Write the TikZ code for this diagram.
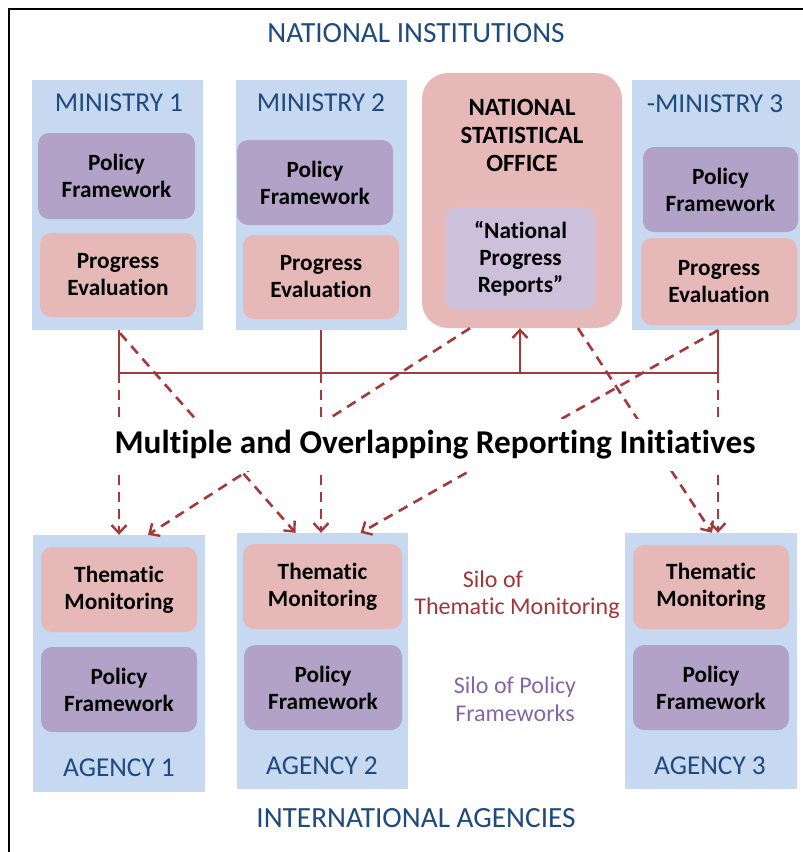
\documentclass[tikz,border=0pt]{standalone}
\usepackage{fontspec}
\setmainfont{Carlito}[Ligatures={TeX,NoCommon}]
\usetikzlibrary{arrows.meta,calc}
\definecolor{cont}{HTML}{C6D9F0}
\definecolor{pinkb}{HTML}{E6B9B8}
\definecolor{purpb}{HTML}{B3A2C7}
\definecolor{lavb}{HTML}{CCC0DA}
\definecolor{nsob}{HTML}{E6B9B8}
\definecolor{bluet}{HTML}{1F4A7E}
\definecolor{redl}{HTML}{A3393B}
\definecolor{redt}{HTML}{A0363A}
\definecolor{purpt}{HTML}{8466A6}
\tikzset{
  container/.style={fill=cont, draw=none, inner sep=0pt},
  inbox/.style={draw=none, rounded corners=11pt, inner sep=0pt, align=center,
     font=\fontsize{23.3}{27}\selectfont\bfseries, text=black},
  pinkbox/.style={inbox, fill=pinkb},
  purpbox/.style={inbox, fill=purpb},
  bluelabel/.style={font=\fontsize{27.3}{30}\selectfont, text=bluet, inner sep=0pt},
  headlabel/.style={font=\fontsize{29.3}{32}\selectfont, text=bluet, inner sep=0pt},
  solidline/.style={draw=redl, line width=2.6pt},
  dashline/.style={draw=redl, line width=2.6pt, dash pattern=on 10pt off 7pt},
  tip/.style={-{Straight Barb[length=8pt,width=15pt,line width=2.4pt]}},
}
\begin{document}
\begin{tikzpicture}[x=1pt,y=-1pt]
\useasboundingbox (0,0) rectangle (803,852);
\fill[white] (0,0) rectangle (803,852);
\draw[line width=2.8pt] (9,852) -- (9,9) -- (803,9);

% titles
\node[headlabel] (ttop) at (416,33) {NATIONAL INSTITUTIONS};
\node[headlabel] (tbot) at (416,818) {INTERNATIONAL AGENCIES};

% ministries
\node[container, minimum width=171pt, minimum height=250pt] (m1) at (117.5,205) {};
\node[container, minimum width=171pt, minimum height=250pt] (m2) at (321.5,205) {};
\node[fill=nsob, draw=none, rounded corners=26pt, minimum width=200pt, minimum height=255pt, inner sep=0pt] (nso) at (522,200.5) {};
\node[container, minimum width=168pt, minimum height=250pt] (m3) at (716,205) {};

\node[bluelabel] (m1l) at (119,103) {MINISTRY 1};
\node[bluelabel] (m2l) at (321,103) {MINISTRY 2};
\node[bluelabel] (m3l) at (715,104) {-MINISTRY 3};
\node[align=center, inner sep=0pt, font=\fontsize{24.8}{28}\selectfont\bfseries] (nsol) at (522,135) {NATIONAL\\STATISTICAL\\OFFICE};

\node[purpbox, minimum width=157pt, minimum height=86pt] (m1pf) at (116.5,176) {Policy\\Framework};
\node[pinkbox, minimum width=156pt, minimum height=84pt] (m1pe) at (118,275) {Progress\\Evaluation};
\node[purpbox, minimum width=156pt, minimum height=85pt] (m2pf) at (315,182.5) {Policy\\Framework};
\node[pinkbox, minimum width=156pt, minimum height=84pt] (m2pe) at (321,277) {Progress\\Evaluation};
\node[inbox, fill=lavb, minimum width=149pt, minimum height=103pt] (npr) at (520.5,258.5) {“National\\Progress\\Reports”};
\node[purpbox, minimum width=155pt, minimum height=85pt] (m3pf) at (720.5,189.5) {Policy\\Framework};
\node[pinkbox, minimum width=156pt, minimum height=87pt] (m3pe) at (719,281.5) {Progress\\Evaluation};

% agencies
\node[container, minimum width=172pt, minimum height=257pt] (a1) at (119,663.5) {};
\node[container, minimum width=171pt, minimum height=256pt] (a2) at (322.5,661) {};
\node[container, minimum width=172pt, minimum height=256pt] (a3) at (711,661) {};

\node[pinkbox, minimum width=156pt, minimum height=85pt] (a1tm) at (119,589.5) {Thematic\\Monitoring};
\node[purpbox, minimum width=156pt, minimum height=85pt] (a1pf) at (119,689.5) {Policy\\Framework};
\node[pinkbox, minimum width=159pt, minimum height=85pt] (a2tm) at (322.5,586.5) {Thematic\\Monitoring};
\node[purpbox, minimum width=158pt, minimum height=85pt] (a2pf) at (323,687.5) {Policy\\Framework};
\node[pinkbox, minimum width=156pt, minimum height=84pt] (a3tm) at (711,587) {Thematic\\Monitoring};
\node[purpbox, minimum width=156pt, minimum height=85pt] (a3pf) at (711,687.5) {Policy\\Framework};

\node[bluelabel] (a1l) at (119,768) {AGENCY 1};
\node[bluelabel] (a2l) at (322,766) {AGENCY 2};
\node[bluelabel] (a3l) at (710,766) {AGENCY 3};

% silo labels
\node[align=center, inner sep=0pt, text=redt, font=\fontsize{24}{27}\selectfont] (silo1) at (517,595) {Silo of\hspace*{48pt}\\Thematic Monitoring};
\node[align=center, inner sep=0pt, text=purpt, font=\fontsize{24}{28}\selectfont] (silo2) at (515,699) {Silo of Policy\\Frameworks};

% connector points
\coordinate (b1) at (119,373);
\coordinate (b2) at (321,373);
\coordinate (b3) at (520,373);
\coordinate (b4) at (718,373);

% solid bracket
\draw[solidline] (m1.south -| b1) -- (b1) -- (b4) -- (m3.south -| b4);
\draw[solidline] (m2.south -| b2) -- (b2);
\draw[solidline, tip] (b3) -- (nso.south -| b3);

% dashed verticals
\draw[dashline, tip] (b1) -- (a1.north -| b1);
\draw[dashline, tip] (b2) -- (a2.north -| b2);
\draw[dashline, tip] (b4) -- (a3.north -| b4);

% dashed diagonals
\draw[dashline, tip] ($(m1.south -| b1)+(1,3)$) -- ([xshift=-27pt]a2.north);
\draw[dashline, tip] ([xshift=-52pt]nso.south) -- ([xshift=29pt]a1.north);
\draw[dashline, tip] (m3.south -| b4) -- ([xshift=38pt]a2.north);
\draw[dashline, tip] ([xshift=56pt]nso.south) -- ([xshift=1pt]a3.north);

% central label
\node[fill=white, inner sep=0pt, minimum width=710pt, minimum height=52pt, font=\fontsize{33.3}{36}\selectfont\bfseries] (multi) at (435,445) {Multiple and Overlapping Reporting Initiatives};
\end{tikzpicture}
\end{document}
